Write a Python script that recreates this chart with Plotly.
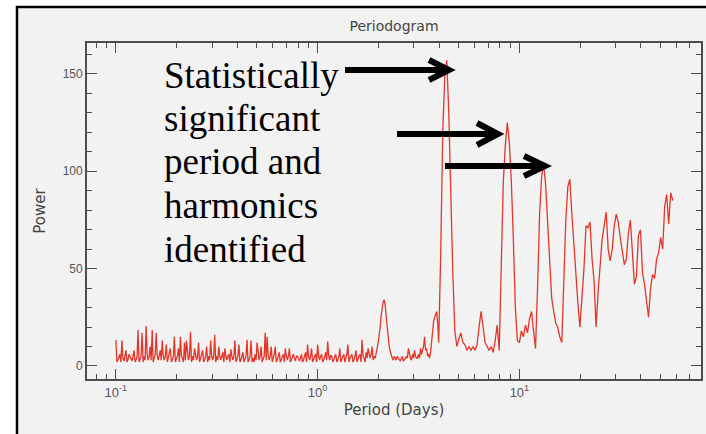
import plotly.graph_objects as go

# ---------------- data ----------------
# main sampling of the periodogram
period_a = [
    0.1000, 0.1023, 0.1047, 0.1072, 0.1096, 0.1122, 0.1148, 0.1175, 0.1202, 0.1230,
    0.1259, 0.1288, 0.1318, 0.1349, 0.1380, 0.1413, 0.1445, 0.1479, 0.1514, 0.1549,
    0.1585, 0.1622, 0.1660, 0.1698, 0.1738, 0.1778, 0.1820, 0.1862, 0.1905, 0.1950,
    0.1995, 0.2042, 0.2089, 0.2138, 0.2188, 0.2239, 0.2291, 0.2344, 0.2399, 0.2455,
    0.2512, 0.2570, 0.2630, 0.2692, 0.2754, 0.2818, 0.2884, 0.2951, 0.3020, 0.3090,
    0.3162, 0.3236, 0.3311, 0.3388, 0.3467, 0.3548, 0.3631, 0.3715, 0.3802, 0.3890,
    0.3981, 0.4074, 0.4169, 0.4266, 0.4365, 0.4467, 0.4571, 0.4677, 0.4786, 0.4898,
    0.5012, 0.5129, 0.5248, 0.5370, 0.5495, 0.5623, 0.5754, 0.5888, 0.6026, 0.6166,
    0.6310, 0.6457, 0.6607, 0.6761, 0.6918, 0.7079, 0.7244, 0.7413, 0.7586, 0.7762,
    0.7943, 0.8128, 0.8318, 0.8511, 0.8710, 0.8913, 0.9120, 0.9333, 0.9550, 0.9772,
]
power_a = [
    13.4, 3, 6, 13, 2.5, 8, 3, 5, 2.5, 8,
    3, 18.5, 4, 17, 5, 20.5, 3, 10, 18.5, 4,
    17, 3, 8, 13, 3, 11, 4, 9, 3, 15,
    4, 9, 15, 4, 12, 13, 3, 17.6, 5, 9,
    3, 12, 4, 8, 3, 10, 5, 13, 3, 16,
    5, 10, 3, 7, 9, 3, 6, 8.5, 3, 13,
    4, 11, 3, 7, 4, 13.4, 3, 13, 4, 6,
    12, 3, 10, 4, 17, 15, 3, 10, 4, 10,
    3, 7, 3, 6, 9, 3, 9, 3, 6, 2.5,
    5, 2.5, 6, 3, 7, 11, 3, 9, 3, 6,
]
# in-between samples of the dense noise band (0.1 - 1 day)
period_ah = [
    0.1012, 0.1035, 0.1059, 0.1084, 0.1109, 0.1135, 0.1161, 0.1189, 0.1216, 0.1245,
    0.1274, 0.1303, 0.1334, 0.1365, 0.1396, 0.1429, 0.1462, 0.1496, 0.1531, 0.1567,
    0.1603, 0.1641, 0.1679, 0.1718, 0.1758, 0.1799, 0.1841, 0.1884, 0.1928, 0.1972,
    0.2018, 0.2065, 0.2114, 0.2163, 0.2213, 0.2265, 0.2317, 0.2371, 0.2427, 0.2483,
    0.2541, 0.2600, 0.2661, 0.2723, 0.2786, 0.2851, 0.2917, 0.2985, 0.3055, 0.3126,
    0.3199, 0.3273, 0.3350, 0.3428, 0.3508, 0.3589, 0.3673, 0.3758, 0.3846, 0.3936,
    0.4027, 0.4121, 0.4217, 0.4315, 0.4416, 0.4519, 0.4624, 0.4732, 0.4842, 0.4955,
    0.5070, 0.5188, 0.5309, 0.5433, 0.5559, 0.5689, 0.5821, 0.5957, 0.6095, 0.6237,
    0.6383, 0.6531, 0.6683, 0.6839, 0.6998, 0.7162, 0.7328, 0.7499, 0.7674, 0.7852,
    0.8035, 0.8222, 0.8414, 0.8610, 0.8811, 0.9016, 0.9226, 0.9441, 0.9661, 0.9886,
]
power_ah = [
    2, 5, 2, 4, 5, 2, 6, 4, 5, 2,
    5, 2, 5, 2, 3, 6, 5, 3, 2, 6,
    5, 5, 3, 5, 5, 2, 6, 2, 5, 2,
    5, 2, 5, 2, 3, 5, 5, 2, 3, 6,
    5, 2, 6, 2, 5, 2, 3, 5, 5, 2,
    3, 5, 5, 2, 5, 5, 2, 5, 5, 2,
    5, 2, 5, 2, 5, 2, 5, 2, 2, 3,
    5, 5, 2, 5, 3, 5, 5, 2, 6, 2,
    5, 2, 5, 2, 5, 5, 2, 5, 4, 5,
    4, 4, 2, 5, 2, 5, 5, 2, 5, 2,
]
period_b = [
    1.000, 1.023, 1.047, 1.072, 1.096, 1.122, 1.148, 1.175, 1.202, 1.230,
    1.259, 1.288, 1.318, 1.349, 1.380, 1.413, 1.445, 1.479, 1.514, 1.549,
    1.585, 1.622, 1.660, 1.698, 1.738, 1.778, 1.820, 1.862, 1.905, 1.950,
    1.995, 2.042, 2.089, 2.138, 2.188, 2.239, 2.291, 2.344, 2.399, 2.455,
    2.512, 2.570, 2.630, 2.692, 2.754, 2.818, 2.884, 2.951, 3.020, 3.090,
    3.162, 3.236, 3.311, 3.388, 3.467, 3.548, 3.631, 3.715, 3.802, 3.890,
    3.981, 4.074, 4.169, 4.266, 4.365, 4.467, 4.571, 4.677, 4.786, 4.898,
    5.012, 5.129, 5.248, 5.370, 5.495, 5.623, 5.754, 5.888, 6.026, 6.166,
    6.310, 6.457, 6.607, 6.761, 6.918, 7.079, 7.244, 7.413, 7.586, 7.762,
    7.943, 8.128, 8.318, 8.511, 8.710, 8.913, 9.120, 9.333, 9.550, 9.772,
]
power_b = [
    11, 3, 6, 3, 7, 12.5, 3, 5, 3, 6,
    3, 9, 4, 6, 4, 11, 4, 6, 3, 8,
    4, 6, 13.4, 4, 7, 9, 4, 10, 5, 8,
    12, 20, 30, 34, 25, 14, 7.4, 4, 5, 3,
    4, 2.5, 5, 3, 5, 9, 4, 6, 8, 4,
    6, 9, 8, 15, 9, 6, 7.4, 20, 25, 28,
    12, 58, 120, 148, 157, 130, 82, 48, 18, 10,
    14, 17, 12, 11, 8, 10, 8, 10, 8, 11,
    20, 28, 20, 12, 10, 8, 10, 7, 13, 21,
    8, 45, 94, 113, 125, 115, 95, 65, 30, 13,
]
# in-between samples from 1 to ~4 days
period_bh = [
    1.012, 1.035, 1.059, 1.084, 1.109, 1.135, 1.161, 1.189, 1.216, 1.245,
    1.274, 1.303, 1.334, 1.365, 1.396, 1.429, 1.462, 1.496, 1.531, 1.567,
    1.603, 1.641, 1.679, 1.718, 1.758, 1.799, 1.841, 1.884, 1.928, 1.972,
    2.018, 2.065, 2.114, 2.163, 2.213, 2.265, 2.317, 2.371, 2.427, 2.483,
    2.541, 2.600, 2.661, 2.723, 2.786, 2.851, 2.917, 2.985, 3.055, 3.126,
    3.199, 3.273, 3.350, 3.428, 3.508, 3.589, 3.673, 3.758, 3.846, 3.936,
]
power_bh = [
    5, 5, 2, 5, 3, 5, 5.5, 2, 5, 2,
    5, 2, 5, 2, 6, 2, 5, 2, 5, 2,
    5, 2, 5, 2, 4, 5, 6, 3, 4, 9,
    15, 26, 33, 31, 19, 10, 5, 3, 4, 5,
    3, 4, 2.5, 4, 4, 6, 3, 4, 5, 4,
    4, 6, 10, 8, 5, 4, 14, 23, 27, 22,
]
period_c = [
    10.00, 10.23, 10.47, 10.72, 10.96, 11.22, 11.48, 11.75, 12.02, 12.30,
    12.59, 12.88, 13.18, 13.49, 13.80, 14.13, 14.45, 14.79, 15.14, 15.49,
    15.85, 16.22, 16.60, 16.98, 17.38, 17.78, 18.20, 18.62, 19.05, 19.50,
    19.95, 20.42, 20.89, 21.38, 21.88, 22.39, 22.91, 23.44, 23.99, 24.55,
    25.12, 25.70, 26.30, 26.92, 27.54, 28.18, 28.84, 29.51, 30.20, 30.90,
    31.62, 32.36, 33.11, 33.88, 34.67, 35.48, 36.31, 37.15, 38.02, 38.90,
    39.81, 40.74, 41.69, 42.66, 43.65, 44.67, 45.71, 46.77, 47.86, 48.98,
    50.12, 51.29, 52.48, 53.70, 54.95, 56.23, 57.54,
]
power_c = [
    12, 18, 15, 21, 17, 24, 28, 18, 9, 40,
    78, 97, 104, 93, 72, 52, 35, 28, 22, 20,
    15, 12, 45, 75, 92, 96, 78, 62, 48, 32,
    20, 35, 50, 72, 71, 74, 55, 44, 20, 38,
    52, 65, 72, 79, 60, 54, 60, 72, 78, 74,
    66, 60, 52, 55, 68, 75, 58, 42, 46, 67,
    70, 48, 42, 33, 25, 40, 47, 45, 55, 58,
    66, 60, 82, 88, 73, 89, 85,
]

pairs = sorted(zip(period_a + period_ah + period_b + period_bh + period_c,
                   power_a + power_ah + power_b + power_bh + power_c))
period = [p for p, _ in pairs]
power = [v for _, v in pairs]

x_tickvals = [0.1, 1, 10]
x_ticktext = ["10<sup>-1</sup>", "10<sup>0</sup>", "10<sup>1</sup>"]
x_minorvals = [0.08, 0.09, 0.2, 0.3, 0.4, 0.5, 0.6, 0.7, 0.8, 0.9,
               2, 3, 4, 5, 6, 7, 8, 9, 20, 30, 40, 50, 60, 70, 80]
y_tickvals = [0, 50, 100, 150]
y_minorvals = [10, 20, 30, 40, 60, 70, 80, 90, 110, 120, 130, 140, 160]

note_lines = ["Statistically", "significant", "period and", "harmonics", "identified"]

# ---------------- layout geometry (pixels) ----------------
W, H = 706, 434
ML, MR, MT, MB = 87, 5, 43, 55
PW, PH = W - ML - MR, H - MT - MB


def pp(px, py):
    """pixel -> paper coordinates"""
    return (px - ML) / PW, (H - MB - py) / PH


BG = "#f2f2f2"
AX = "#4d4d4d"

fig = go.Figure()
fig.add_trace(go.Scatter(
    x=period, y=power, mode="lines",
    line=dict(color="#e3362b", width=1.3),
    showlegend=False, hoverinfo="skip",
))

shapes = []
# outer black frame
fx0, fy0 = pp(17, 7)
fx1, fy1 = pp(W + 10, H + 10)
shapes.append(dict(type="rect", xref="paper", yref="paper", x0=fx0, y0=fy1, x1=fx1, y1=fy0,
                   line=dict(color="black", width=2.5), fillcolor=BG, layer="below"))

# arrows (start x, tip x, y, head length, head half height) in pixels
arrows = [(345, 449, 70, 20, 10), (397, 498, 134, 21, 11), (445, 545, 166, 21, 10)]
for sx, tx, y, hl, hh in arrows:
    a0 = pp(sx, y)
    a1 = pp(tx - 2, y)
    shapes.append(dict(type="path", xref="paper", yref="paper",
                       path=f"M{a0[0]},{a0[1]} L{a1[0]},{a1[1]}",
                       line=dict(color="black", width=6)))
    u = pp(tx - hl, y - hh)
    t = pp(tx, y)
    d = pp(tx - hl, y + hh)
    shapes.append(dict(type="path", xref="paper", yref="paper",
                       path=f"M{u[0]},{u[1]} L{t[0]},{t[1]} L{d[0]},{d[1]}",
                       line=dict(color="black", width=6)))

annotations = []
line_centers = [75.7, 118, 161.5, 205.7, 249.7]
for txt, cy in zip(note_lines, line_centers):
    ax_, ay_ = pp(162, cy)
    annotations.append(dict(text=txt, x=ax_, y=ay_, xref="paper", yref="paper",
                            xanchor="left", yanchor="middle", showarrow=False,
                            font=dict(family="Liberation Serif", size=37, color="black")))

fig.update_layout(
    width=W, height=H, autosize=False,
    margin=dict(l=ML, r=MR, t=MT, b=MB, pad=0),
    paper_bgcolor="white", plot_bgcolor=BG,
    title=dict(text="Periodogram", x=0.5, xref="paper", xanchor="center",
               y=1 - 26 / H, yref="container", yanchor="middle",
               font=dict(family="DejaVu Sans", size=14, color="#444")),
    shapes=shapes, annotations=annotations,
    xaxis=dict(
        type="log", range=[-1.143, 1.9], autorange=False,
        tickmode="array", tickvals=x_tickvals, ticktext=x_ticktext,
        ticks="inside", ticklen=10, tickwidth=1.3, tickcolor=AX,
        minor=dict(tickmode="array", tickvals=x_minorvals, ticks="inside",
                   ticklen=5, tickwidth=1.3, tickcolor=AX, showgrid=False),
        showline=True, linecolor=AX, linewidth=1.8, mirror="ticks",
        showgrid=False, zeroline=False, automargin=False,
        tickfont=dict(family="Liberation Sans", size=13, color="#555"),
        title=dict(text="Period (Days)", standoff=6,
                   font=dict(family="DejaVu Sans", size=15, color="#444")),
    ),
    yaxis=dict(
        range=[-6.7, 165.9], autorange=False,
        tickmode="array", tickvals=y_tickvals,
        ticks="inside", ticklen=10, tickwidth=1.3, tickcolor=AX,
        minor=dict(tickmode="array", tickvals=y_minorvals, ticks="inside",
                   ticklen=5, tickwidth=1.3, tickcolor=AX, showgrid=False),
        showline=True, linecolor=AX, linewidth=1.8, mirror="ticks",
        showgrid=False, zeroline=False, automargin=False,
        tickfont=dict(family="Liberation Sans", size=12, color="#555"),
        title=dict(text="Power", standoff=13,
                   font=dict(family="DejaVu Sans", size=15, color="#444")),
    ),
)

fig.write_html("out.html")
